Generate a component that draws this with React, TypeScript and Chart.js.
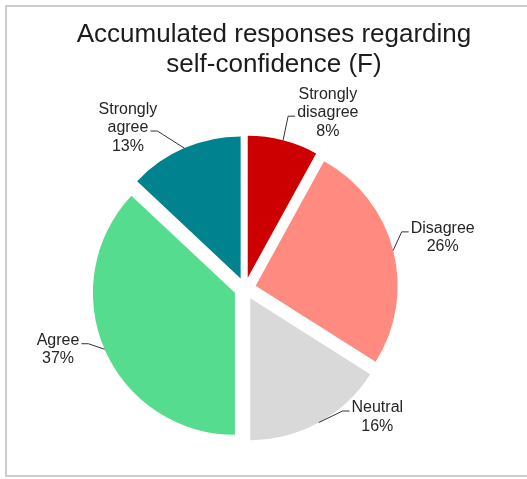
import { useEffect, useRef } from 'react';
import { Chart, registerables } from 'chart.js';

Chart.register(...registerables);

// Survey answers, share of all responses in percent
const categories = ['Strongly disagree', 'Disagree', 'Neutral', 'Agree', 'Strongly agree'];
const shares = [8, 26, 16, 37, 13];
const sliceColors = ['#cc0000', '#ff8a80', '#d9d9d9', '#56dc8f', '#00838f'];
const titleLines = ['Accumulated responses regarding', 'self-confidence (F)'];

// Label placement around the pie: angle in degrees clockwise from 12 o'clock,
// distance as a multiple of the pie radius (measured to the middle text line).
const labelAngles = [25.8, 76.8, 135.1, 250.7, 323.2];
const labelDistances = [1.34, 1.43, 1.32, 1.395, 1.376];

const RADIUS = 142;
const EXPLODE = 11;
const LINE_H = 18.5;
const FONT = '"Liberation Sans", Arial, Helvetica, sans-serif';

// Pulls every slice out along its bisector by the same distance.
const explodePlugin = {
  id: 'explodeSlices',
  beforeDatasetDraw(chart: any, args: any) {
    const ctx = chart.ctx;
    for (const arc of args.meta.data) {
      const mid = (arc.startAngle + arc.endAngle) / 2;
      ctx.save();
      ctx.translate(Math.cos(mid) * EXPLODE, Math.sin(mid) * EXPLODE);
      arc.draw(ctx, chart.chartArea);
      ctx.restore();
    }
    return false;
  },
};

// Frame, title and leader-line labels.
const decorPlugin = {
  id: 'decor',
  beforeDraw(chart: any) {
    const ctx = chart.ctx;
    ctx.save();
    ctx.fillStyle = '#ffffff';
    ctx.fillRect(0, 0, chart.width, chart.height);
    ctx.strokeStyle = '#cdcdcd';
    ctx.lineWidth = 2;
    ctx.strokeRect(6, 6, chart.width + 40, 470);
    ctx.restore();
  },
  afterDraw(chart: any) {
    const ctx = chart.ctx;
    ctx.save();
    ctx.fillStyle = '#1c1c1c';
    ctx.textAlign = 'center';
    ctx.textBaseline = 'alphabetic';
    ctx.font = `26px ${FONT}`;
    ctx.fillText(titleLines[0], 274, 42);
    ctx.fillText(titleLines[1], 274, 72);

    const meta = chart.getDatasetMeta(0);
    ctx.font = `16px ${FONT}`;
    ctx.strokeStyle = '#333333';
    ctx.lineWidth = 1;
    meta.data.forEach((arc: any, i: number) => {
      const { x, y, startAngle, endAngle, outerRadius } = arc;
      const mid = (startAngle + endAngle) / 2;
      const ax = x + Math.cos(mid) * (outerRadius + EXPLODE);
      const ay = y + Math.sin(mid) * (outerRadius + EXPLODE);

      const la = ((labelAngles[i] - 90) * Math.PI) / 180;
      const ld = labelDistances[i] * outerRadius;
      const lx = x + Math.cos(la) * ld;
      const ly = y + Math.sin(la) * ld;

      const lines = [...categories[i].split(' '), `${shares[i]}%`];
      const first = ly - ((lines.length - 1) / 2) * LINE_H;
      ctx.fillStyle = '#262626';
      lines.forEach((t, k) => ctx.fillText(t, lx, first + k * LINE_H));

      const attach = lines.length === 3 ? 1 : 0;
      const by = first + attach * LINE_H - 1;
      const w = ctx.measureText(lines[attach]).width;
      const dir = lx > ax ? -1 : 1;
      const edge = lx + (dir * w) / 2;
      ctx.beginPath();
      ctx.moveTo(edge + dir * 2, by);
      ctx.lineTo(edge + dir * 9, by);
      ctx.lineTo(ax, ay);
      ctx.stroke();
    });
    ctx.restore();
  },
};

export default function App() {
  const canvasRef = useRef<HTMLCanvasElement>(null);

  useEffect(() => {
    if (!canvasRef.current) return;
    const chart = new Chart(canvasRef.current, {
      type: 'pie',
      data: {
        labels: categories,
        datasets: [
          {
            data: shares,
            backgroundColor: sliceColors,
            borderWidth: 0,
            offset: 0,
            hoverOffset: 0,
          },
        ],
      },
      options: {
        responsive: false,
        animation: false,
        events: [],
        radius: RADIUS,
        layout: { padding: { left: 0, right: 37, top: 120, bottom: 22 } },
        plugins: {
          legend: { display: false },
          tooltip: { enabled: false },
          title: { display: false },
        },
      } as any,
      plugins: [decorPlugin, explodePlugin],
    });
    return () => chart.destroy();
  }, []);

  return (
    <div style={{ position: 'absolute', left: 0, top: 0, width: 527, height: 479 }}>
      <canvas ref={canvasRef} width={527} height={479} style={{ display: 'block' }} />
    </div>
  );
}
